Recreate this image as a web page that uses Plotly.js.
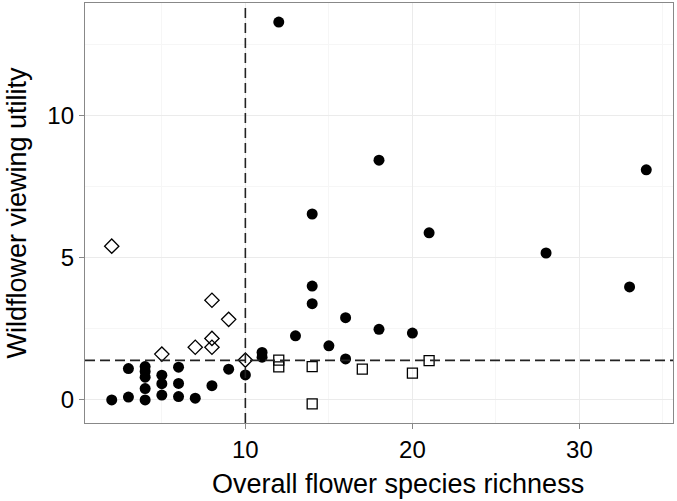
<!DOCTYPE html>
<html>
<head>
<meta charset="utf-8">
<script src="https://cdn.plot.ly/plotly-3.0.1.min.js"></script>
<style>html,body{margin:0;padding:0;background:#fff;}#chart{width:677px;height:501px;}</style>
</head>
<body>
<div id="chart"></div>
<script>
// Filled circles
const circleX = [2, 3, 3, 4, 4, 4, 4, 4, 5, 5, 5, 6, 6, 6, 7, 8, 9, 10, 11, 11, 12, 13, 14, 14, 14, 15, 16, 16, 18, 18, 20, 21, 28, 33, 34];
const circleY = [0.0, 1.1, 0.1, 1.17, 1.0, 0.8, 0.4, 0.0, 0.87, 0.57, 0.17, 1.15, 0.58, 0.12, 0.06, 0.5, 1.08, 0.88, 1.67, 1.5, 13.27, 2.25, 6.53, 4.0, 3.38, 1.9, 2.89, 1.44, 8.42, 2.48, 2.35, 5.87, 5.16, 3.97, 8.08];
// Open diamonds
const diamondX = [2, 5, 7, 8, 8, 8, 9, 10];
const diamondY = [5.4, 1.61, 1.85, 3.5, 2.16, 1.85, 2.83, 1.40];
// Open squares
const squareX = [12, 12, 14, 14, 17, 20, 21];
const squareY = [1.40, 1.16, 1.17, -0.14, 1.08, 0.94, 1.38];
// Reference lines
const vLineX = 10;
const hLineY = 1.39;

const xTicks = [10, 20, 30];
const yTicks = [0, 5, 10];
const xTitle = 'Overall flower species richness';
const yTitle = 'Wildflower viewing utility';

const traces = [
  {x: circleX, y: circleY, type: 'scatter', mode: 'markers',
   marker: {symbol: 'circle', size: 11, color: '#000', line: {width: 0}}},
  {x: diamondX, y: diamondY, type: 'scatter', mode: 'markers',
   marker: {symbol: 'diamond-open', size: 11, color: '#000', line: {width: 1.3}}},
  {x: squareX, y: squareY, type: 'scatter', mode: 'markers',
   marker: {symbol: 'square-open', size: 10, color: '#000', line: {width: 1.3}}}
];

const font = {family: 'Liberation Sans, Arial, sans-serif', color: '#000'};

const layout = {
  width: 677, height: 501,
  margin: {l: 85, r: 4, t: 3, b: 78},
  paper_bgcolor: '#fff', plot_bgcolor: '#fff',
  showlegend: false,
  font: font,
  xaxis: {
    range: [0.4, 35.6], tickvals: xTicks, ticktext: xTicks.map(String),
    showgrid: true, gridcolor: '#ebebeb', gridwidth: 1,
    minor: {tickvals: [5, 15, 25, 35], showgrid: true, gridcolor: '#f6f6f6', ticklen: 0},
    zeroline: false, showline: true, mirror: true, linecolor: '#888', linewidth: 1.2,
    ticks: 'outside', ticklen: 5, tickcolor: '#888',
    tickfont: {family: font.family, size: 24, color: '#000'}
  },
  yaxis: {
    range: [-0.81, 13.94], tickvals: yTicks, ticktext: yTicks.map(String),
    showgrid: true, gridcolor: '#ebebeb', gridwidth: 1,
    minor: {tickvals: [2.5, 7.5, 12.5], showgrid: true, gridcolor: '#f6f6f6', ticklen: 0},
    zeroline: false, showline: true, mirror: true, linecolor: '#888', linewidth: 1.2,
    ticks: 'outside', ticklen: 5, tickcolor: '#888',
    tickfont: {family: font.family, size: 24, color: '#000'},
    title: {text: yTitle, font: {family: font.family, size: 27, color: '#000'}, standoff: 12}
  },
  annotations: [
    {text: xTitle, xref: 'paper', yref: 'paper', x: 0.532, y: 0, xanchor: 'center', yanchor: 'middle',
     yshift: -61, showarrow: false, font: {family: font.family, size: 27, color: '#000'}}
  ],
  shapes: [
    {type: 'line', xref: 'x', yref: 'paper', x0: vLineX, x1: vLineX, y0: 0, y1: 1,
     line: {color: '#222', width: 1.6, dash: '10px,5px'}, layer: 'above'},
    {type: 'line', xref: 'paper', yref: 'y', x0: 0, x1: 1, y0: hLineY, y1: hLineY,
     line: {color: '#222', width: 1.6, dash: '10px,5px'}, layer: 'above'}
  ]
};

Plotly.newPlot('chart', traces, layout, {displayModeBar: false, staticPlot: true});
</script>
</body>
</html>
